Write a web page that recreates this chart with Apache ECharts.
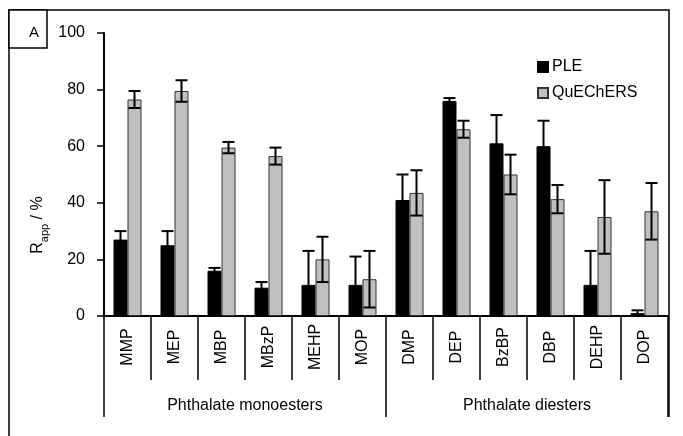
<!DOCTYPE html>
<html>
<head>
<meta charset="utf-8">
<script src="https://cdn.jsdelivr.net/npm/echarts@6/dist/echarts.min.js"></script>
<style>
html,body{margin:0;padding:0;background:#fff;}
#chart{width:683px;height:436px;}
</style>
</head>
<body>
<div id="chart"></div>
<script>
// ---- data ----
var categories = ['MMP', 'MEP', 'MBP', 'MBzP', 'MEHP', 'MOP', 'DMP', 'DEP', 'BzBP', 'DBP', 'DEHP', 'DOP'];
var groups = ['Phthalate monoesters', 'Phthalate diesters'];
var pleValues = [27, 25, 16, 10, 11, 11, 41, 76, 61, 60, 11, 1];
var pleErrors = [3, 5, 1, 2, 12, 10, 9, 1, 10, 9, 12, 1];
var quechersValues = [76.5, 79.5, 59.5, 56.5, 20, 13, 43.5, 66, 50, 41.3, 35, 37];
var quechersErrors = [3, 3.8, 2, 3, 8, 10, 8, 3, 7, 5, 13, 10];
var yTicks = [0, 20, 40, 60, 80, 100];

// ---- chart ----
var FONT = '"Liberation Sans", Arial, sans-serif';
var BAR_W = 14;
var chart = echarts.init(document.getElementById('chart'));

function errData(values, errors) {
  return values.map(function (v, i) { return [i, v, errors[i]]; });
}
function errRender(side) {
  return function (params, api) {
    var i = api.value(0), v = api.value(1), e = api.value(2);
    var c = api.coord([i, v]);
    var x = c[0] + side * BAR_W / 2;
    var yTop = api.coord([i, v + e])[1];
    var yBot = api.coord([i, Math.max(v - e, 0)])[1];
    var cap = 6;
    var st = { stroke: '#000', lineWidth: 2 };
    return {
      type: 'group',
      children: [
        { type: 'line', shape: { x1: x, y1: yTop, x2: x, y2: yBot }, style: st },
        { type: 'line', shape: { x1: x - cap, y1: yTop, x2: x + cap, y2: yTop }, style: st },
        { type: 'line', shape: { x1: x - cap, y1: yBot, x2: x + cap, y2: yBot }, style: st }
      ]
    };
  };
}

var option = {
  animation: false,
  backgroundColor: '#fff',
  textStyle: { fontFamily: FONT },
  grid: { left: 104, right: 15, top: 33, bottom: 120, containLabel: false },
  legend: {
    data: [
      { name: 'PLE', icon: 'rect' },
      { name: 'QuEChERS', icon: 'rect' }
    ],
    orient: 'vertical',
    left: 532,
    top: 54,
    itemWidth: 10,
    itemHeight: 10,
    itemGap: 10,
    textStyle: { fontFamily: FONT, fontSize: 16, color: '#000', padding: [0, 0, 0, -1] }
  },
  xAxis: [
    {
      type: 'category',
      data: categories,
      position: 'bottom',
      axisLine: { lineStyle: { color: '#000', width: 2 } },
      axisTick: { show: true, interval: 0, length: 64, lineStyle: { color: '#000', width: 1.5 } },
      axisLabel: {
        interval: 0, rotate: 90, align: 'center', verticalAlign: 'middle', margin: 31,
        fontFamily: FONT, fontSize: 16, color: '#000'
      }
    },
    {
      type: 'category',
      data: groups,
      position: 'bottom',
      axisLine: { show: false },
      axisTick: { show: true, interval: 0, length: 101, lineStyle: { color: '#000', width: 1.5 } },
      axisLabel: { interval: 0, margin: 82, fontFamily: FONT, fontSize: 16, color: '#000' }
    }
  ],
  yAxis: {
    type: 'value',
    min: yTicks[0],
    max: yTicks[yTicks.length - 1],
    interval: yTicks[1] - yTicks[0],
    axisLine: { show: true, lineStyle: { color: '#000', width: 2 } },
    axisTick: { show: true, inside: false, length: 7, lineStyle: { color: '#000', width: 1.5 } },
    axisLabel: { margin: 19, fontFamily: FONT, fontSize: 16, color: '#000' },
    splitLine: { show: false }
  },
  series: [
    {
      name: 'PLE',
      type: 'bar',
      data: pleValues,
      barWidth: BAR_W,
      barGap: '0%',
      itemStyle: { color: '#000', borderColor: '#000', borderWidth: 1 }
    },
    {
      name: 'QuEChERS',
      type: 'bar',
      data: quechersValues,
      barWidth: BAR_W,
      barGap: '0%',
      itemStyle: { color: '#c0c0c0', borderColor: '#333', borderWidth: 1 }
    },
    {
      name: 'PLE err',
      type: 'custom',
      data: errData(pleValues, pleErrors),
      renderItem: errRender(-1),
      encode: { x: 0, y: [1] },
      z: 5
    },
    {
      name: 'QuEChERS err',
      type: 'custom',
      data: errData(quechersValues, quechersErrors),
      renderItem: errRender(1),
      encode: { x: 0, y: [1] },
      z: 5
    }
  ],
  graphic: [
    {
      type: 'polyline',
      shape: { points: [[9, 436], [9, 10], [669, 10], [669, 417]] },
      style: { stroke: '#000', lineWidth: 1.5, fill: null },
      z: 0
    },
    {
      type: 'rect',
      shape: { x: 9, y: 10, width: 38, height: 38 },
      style: { stroke: '#000', lineWidth: 1.5, fill: '#fff' }
    },
    {
      type: 'text',
      x: 34, y: 33,
      style: { text: 'A', fontFamily: FONT, fontSize: 15, fill: '#000', align: 'center', verticalAlign: 'middle' }
    },
    {
      type: 'text',
      x: 36, y: 225,
      rotation: Math.PI / 2,
      style: {
        text: '{a|R}{b|app}{a| / %}',
        align: 'center',
        verticalAlign: 'middle',
        rich: {
          a: { fontFamily: FONT, fontSize: 16, fill: '#000', lineHeight: 20, verticalAlign: 'bottom' },
          b: { fontFamily: FONT, fontSize: 11, fill: '#000', lineHeight: 20, verticalAlign: 'bottom', padding: [0, 0, -4, 0] }
        }
      }
    }
  ]
};
chart.setOption(option);
</script>
</body>
</html>
